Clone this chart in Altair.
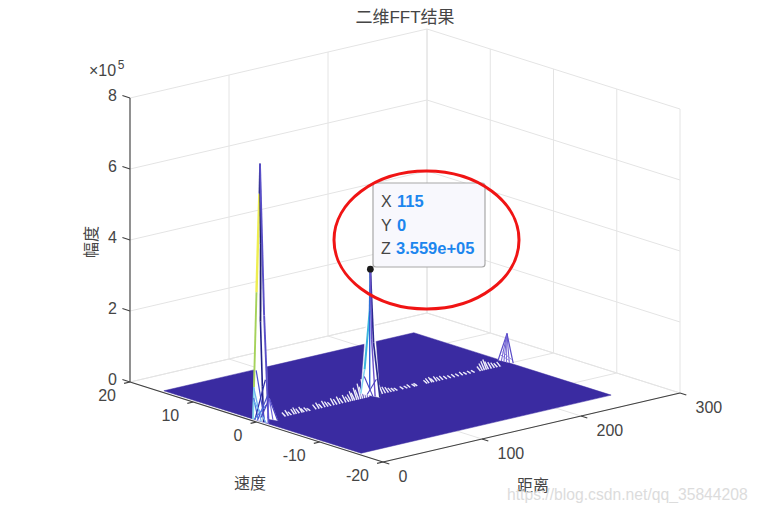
import altair as alt
import pandas as pd

W, H = 743, 495

TITLE = "二维FFT结果"
X_TICKS = [0, 100, 200, 300]
Y_TICKS = [-20, -10, 0, 10, 20]
Z_TICKS = [0, 2e5, 4e5, 6e5, 8e5]
Z_LABELS = ["0", "2", "4", "6", "8"]

# FFT surface extent (range bins, speed)
PLANE_X = [3.5, 256, 256, 3.5]
PLANE_Y = [15.2, 15.2, -16, -16]

# small ridge along speed = 0
RIDGE_X = [27, 30, 33, 36, 38, 41, 44, 46, 49, 52,
           58, 61, 64, 67, 70, 73, 76, 79, 82, 85, 88, 91,
           93, 95, 97, 99, 101, 103, 105, 107, 109, 111,
           118, 120, 122, 125, 128, 131, 134, 137, 140,
           146, 150, 153, 158, 160,
           170, 172, 175, 177, 180, 183, 186, 190, 194, 198, 202, 206, 210, 214, 218,
           224, 226, 228, 230, 232, 235, 238, 241, 244]
RIDGE_Z = [.08, .13, .06, .12, .15, .10, .13, .07, .08, .04,
           .10, .14, .08, .15, .11, .07, .16, .12, .17, .11, .18, .11,
           .16, .24, .18, .31, .24, .40, .30, .50, .38, .52,
           .45, .34, .28, .22, .15, .12, .08, .06, .04,
           .04, .03, .05, .03, .04,
           .06, .10, .12, .07, .11, .06, .08, .05, .04, .05, .04, .06, .03, .04, .03,
           .10, .17, .22, .26, .19, .15, .12, .08, .10]

# white faces of the three peaks: (x, y, z) corners
FACES = [
    [(3.5, 0, 7.25e5), (3.5, 1.1, 0), (4.5, -1.2, 0)],
    [(13, 0, .58e5), (11, 1.0, 0), (15, -1.0, 0)],
    [(115, 0, 3.559e5), (113, 1.2, 0), (117, -1.2, 0)],
    [(253, 0, .85e5), (255, 1.7, 0), (258, -.2, 0)],
]

# mesh lines of the peaks: (colour, width, points)
STRANDS = [
    ("#3d3d9c", 1.6, [(3.5, 0, 7.25e5), (3.5, .1, 6.4e5)]),
    ("#eeee50", 2.4, [(3.5, .1, 6.4e5), (3.5, .55, 3.6e5)]),
    ("#a5d25a", 1.9, [(3.5, .55, 3.6e5), (3.5, .95, .9e5)]),
    ("#7fd6e8", 1.8, [(3.5, .95, .9e5), (3.5, 1.1, 0)]),
    ("#20206a", 1.8, [(3.5, 0, 7.25e5), (3.6, -.1, 5e5), (3.7, -.05, 2.8e5)]),
    ("#5a50c8", 1.9, [(3.5, 0, 7.25e5), (4.5, -.5, 3e5), (4.5, -1.2, 0)]),
    ("#20208a", 1.6, [(3.7, -.05, 2.8e5), (4, -.3, 1e5), (4, -.5, 0)]),
    ("#4a78e0", 1.3, [(3.5, 1.0, .6e5), (3.5, .3, .05e5)]),
    ("#6fb4f0", 1.3, [(3.5, 1.0, .9e5), (3.5, -.2, 0)]),
    ("#4a50d0", 1.2, [(3.5, .6, 1.4e5), (4.5, -.6, 0)]),
    ("#4a50d0", 1.2, [(4.5, -1.1, .8e5), (3.5, .4, 0)]),
    ("#2f2fa8", 1.2, [(4.5, -.7, 1.2e5), (3.5, .8, 0)]),
    ("#6fb4f0", 1.2, [(3.5, .9, .5e5), (4, -.9, 0)]),
    ("#4a78e0", 1.1, [(4, -.9, .5e5), (3.5, .9, 0)]),
    ("#4a40c0", 1.2, [(13, 0, .58e5), (11, 1.0, 0)]),
    ("#4a40c0", 1.2, [(13, 0, .58e5), (15, -1.0, 0)]),
    ("#6a60d8", 1.1, [(13, 0, .58e5), (13, .3, 0)]),
    ("#6a60d8", 1.1, [(13, 0, .58e5), (14, -.4, 0)]),
    ("#2f6fd8", 1.9, [(115, 0, 3.559e5), (115, .1, 2.4e5)]),
    ("#3cb4dc", 2.0, [(115, .1, 2.4e5), (114, .75, .7e5)]),
    ("#7fd0f0", 1.5, [(114, .75, .7e5), (113, 1.2, 0)]),
    ("#2a2a90", 1.7, [(115, 0, 3.559e5), (116, -.35, 1.5e5), (117, -1.2, 0)]),
    ("#6a50c8", 1.4, [(115, 0, 3.559e5), (115, -.2, 1.6e5), (116, -.6, 0)]),
    ("#2f60d8", 1.4, [(115, .1, 2.4e5), (115, .1, .2e5)]),
    ("#4a40c0", 1.1, [(114, .8, .5e5), (115, -.4, 0)]),
    ("#4a40c0", 1.1, [(116, -.8, .5e5), (115, .5, 0)]),
    ("#5a4cc8", 1.2, [(253, 0, .85e5), (255, 1.7, 0)]),
    ("#6a5cd0", 1.0, [(253, 0, .85e5), (255, 1.2, 0)]),
    ("#6a5cd0", 1.0, [(253, 0, .85e5), (255, .8, 0)]),
    ("#7a6cd8", 1.0, [(253, 0, .85e5), (255, .4, 0)]),
    ("#6a5cd0", 1.0, [(253, 0, .85e5), (256, .1, 0)]),
    ("#5a4cc8", 1.2, [(253, 0, .85e5), (258, -.2, 0)]),
    ("#8a7ce0", .9, [(254, .9, .28e5), (257, -.1, .1e5)]),
    ("#8a7ce0", .9, [(254, 1.2, .18e5), (257, .2, .05e5)]),
]

GRID_COLOR = "#e4e4e4"
AXIS_COLOR = "#404040"
TEXT_COLOR = "#454545"
TIP_BLUE = "#1c86ee"
PLANE_COLOR = "#3a2ba1"
FONT = "Liberation Sans, Noto Sans CJK SC"


def sx(a, b):
    # screen x of a (range, speed) pair, fixed MATLAB view
    return f"383 + 297 * datum.{a} / 300 - 253 * (datum.{b} + 20) / 40"


def sy(a, b, c):
    return f"462 - 69 * datum.{a} / 300 - 80 * (datum.{b} + 20) / 40 - 284 * datum.{c} / 8e5"


X_SCALE = alt.Scale(domain=[8, 8 + W], nice=False, zero=False)
Y_SCALE = alt.Scale(domain=[8 + H, 8], nice=False, zero=False)


def segments(rows, color, width, opacity=1.0):
    df = pd.DataFrame(rows, columns=["x1", "y1", "z1", "x2", "y2", "z2"])
    return (
        alt.Chart(df)
        .transform_calculate(
            sx1=sx("x1", "y1"), sy1=sy("x1", "y1", "z1"),
            sx2=sx("x2", "y2"), sy2=sy("x2", "y2", "z2"),
        )
        .mark_rule(color=color, strokeWidth=width, opacity=opacity)
        .encode(
            x=alt.X("sx1:Q", scale=X_SCALE, axis=None),
            x2="sx2:Q",
            y=alt.Y("sy1:Q", scale=Y_SCALE, axis=None),
            y2="sy2:Q",
        )
    )


def polygons(rows, fill):
    df = pd.DataFrame(rows, columns=["g", "i", "x", "y", "z"])
    return (
        alt.Chart(df)
        .transform_calculate(sx=sx("x", "y"), sy=sy("x", "y", "z"))
        .mark_line(interpolate="linear-closed", fill=fill, stroke=fill, strokeWidth=0.5)
        .encode(
            x=alt.X("sx:Q", scale=X_SCALE, axis=None),
            y=alt.Y("sy:Q", scale=Y_SCALE, axis=None),
            detail="g:N",
            order="i:Q",
        )
    )


def labels(rows, align, dx, dy):
    df = pd.DataFrame(rows, columns=["t", "x", "y", "z"])
    return (
        alt.Chart(df)
        .transform_calculate(sx=sx("x", "y"), sy=sy("x", "y", "z"))
        .mark_text(font=FONT, fontSize=16, color=TEXT_COLOR, align=align, dx=dx, dy=dy)
        .encode(
            x=alt.X("sx:Q", scale=X_SCALE, axis=None),
            y=alt.Y("sy:Q", scale=Y_SCALE, axis=None),
            text="t:N",
        )
    )


def note(text, x, y, size=16, color=TEXT_COLOR, align="center", **kw):
    return (
        alt.Chart(pd.DataFrame({"t": [text]}))
        .mark_text(font=FONT, fontSize=size, color=color, align=align, **kw)
        .encode(x=alt.value(x - 8), y=alt.value(y - 8), text="t:N")
    )


# walls and floor
grid = []
for x in X_TICKS:
    grid.append((x, 20, 0, x, -20, 0))
    grid.append((x, 20, 0, x, 20, 8e5))
for y in Y_TICKS:
    grid.append((0, y, 0, 300, y, 0))
    grid.append((300, y, 0, 300, y, 8e5))
for z in Z_TICKS:
    grid.append((0, 20, z, 300, 20, z))
    grid.append((300, 20, z, 300, -20, z))

axes = [(0, -20, 0, 300, -20, 0), (0, -20, 0, 0, 20, 0), (0, 20, 0, 0, 20, 8e5)]
for x in X_TICKS:
    axes.append((x, -20, 0, x, -21, 0))
for y in Y_TICKS:
    axes.append((0, y, 0, -6, y, 0))
for z in Z_TICKS:
    axes.append((0, 20, z, 0, 21.2, z))

plane = [(0, i, px, py, 0) for i, (px, py) in enumerate(zip(PLANE_X, PLANE_Y))]

faces = []
for g, face in enumerate(FACES):
    for i, p in enumerate(face):
        faces.append((g, i, *p))

ridge = [(x, .22, z * 1e5, x, -.35, 0) for x, z in zip(RIDGE_X, RIDGE_Z)]
ridge_back = [(x + .8, .15, z * .7e5, x + .8, -.3, 0) for x, z in zip(RIDGE_X, RIDGE_Z)]

strand_rows = []
for g, (color, width, pts) in enumerate(STRANDS):
    for a, b in zip(pts, pts[1:]):
        strand_rows.append((*a, *b, color, width))
strands = pd.DataFrame(strand_rows, columns=["x1", "y1", "z1", "x2", "y2", "z2", "color", "width"])
strand_layer = (
    alt.Chart(strands)
    .transform_calculate(
        sx1=sx("x1", "y1"), sy1=sy("x1", "y1", "z1"),
        sx2=sx("x2", "y2"), sy2=sy("x2", "y2", "z2"),
    )
    .mark_rule()
    .encode(
        x=alt.X("sx1:Q", scale=X_SCALE, axis=None),
        x2="sx2:Q",
        y=alt.Y("sy1:Q", scale=Y_SCALE, axis=None),
        y2="sy2:Q",
        color=alt.Color("color:N", scale=None),
        strokeWidth=alt.StrokeWidth("width:Q", scale=None),
    )
)

# data tip
dot = (
    alt.Chart(pd.DataFrame({"x": [115], "y": [0], "z": [3.559e5]}))
    .transform_calculate(sx=sx("x", "y"), sy=sy("x", "y", "z"))
    .mark_circle(color="#1a1a1a", size=45, opacity=1)
    .encode(
        x=alt.X("sx:Q", scale=X_SCALE, axis=None),
        y=alt.Y("sy:Q", scale=Y_SCALE, axis=None),
    )
)
tip_box = (
    alt.Chart(pd.DataFrame({"a": [0]}))
    .mark_rect(fill="#f8f8fd", stroke="#a8a8a8", strokeWidth=1.2, cornerRadius=3)
    .encode(
        x=alt.value(373 - 8), x2=alt.value(485 - 8),
        y=alt.value(183 - 8), y2=alt.value(267 - 8),
    )
)
ellipse = (
    alt.Chart(pd.DataFrame({"a": [0]}))
    .mark_point(
        shape="M -1 0 A 1 0.746 0 1 1 1 0 A 1 0.746 0 1 1 -1 0 Z",
        size=185 ** 2, filled=False, color="#f01414", strokeWidth=3, opacity=1,
    )
    .encode(x=alt.value(426.5 - 8), y=alt.value(240 - 8))
)

texts = [
    note(TITLE, 405, 18, size=17),
    note("×10", 89, 71, align="left"),
    note("5", 121, 65, size=12),
    note("幅度", 92, 242, angle=270),
    note("速度", 250, 484),
    note("距离", 533, 486),
    note("X", 381, 202, align="left"),
    note("Y", 381, 226, align="left"),
    note("Z", 381, 249, align="left"),
    note("115", 397, 202, size=16.5, color=TIP_BLUE, align="left", fontWeight="bold"),
    note("0", 397, 226, size=16.5, color=TIP_BLUE, align="left", fontWeight="bold"),
    note("3.559e+05", 396, 249, size=16.5, color=TIP_BLUE, align="left", fontWeight="bold"),
    note("https://blog.csdn.net/qq_35844208", 507, 495, size=15.7, color="#dcdcdc", align="left"),
]

tick_labels = [
    labels([(str(x), x, -20, 0) for x in X_TICKS], "left", 15.5, 15),
    labels([(str(y), 0, y, 0) for y in Y_TICKS], "right", -14, 14),
    labels([(t, 0, 20, z) for t, z in zip(Z_LABELS, Z_TICKS)], "right", -13, -2),
]

chart = alt.layer(
    segments(grid, GRID_COLOR, 1),
    segments(axes, AXIS_COLOR, 1.1),
    polygons(plane, PLANE_COLOR),
    segments(ridge_back, "#8f86e0", 1.0),
    segments(ridge, "#ffffff", 1.3, opacity=0.9),
    polygons(faces, "#ffffff"),
    strand_layer,
    *tick_labels,
    tip_box,
    ellipse,
    dot,
    *texts,
).properties(
    width=W,
    height=H,
    padding=0,
    autosize=alt.AutoSizeParams(type="none"),
    background="#ffffff",
).configure_view(stroke=None)

chart.save("out.html", embed_options={"renderer": "svg", "actions": False})
